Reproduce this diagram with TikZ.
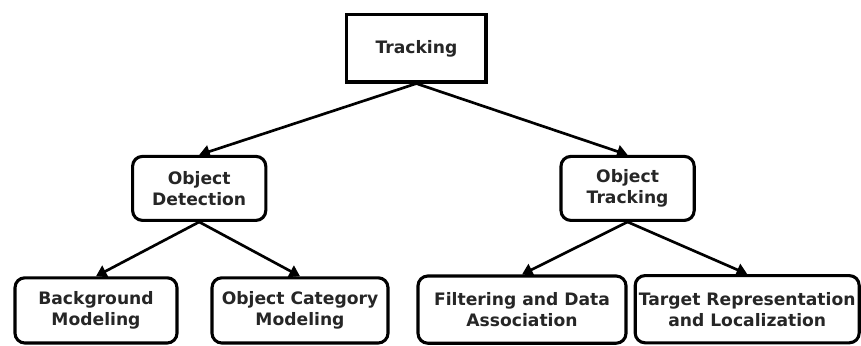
\documentclass[tikz,border=0pt]{standalone}
\usepackage{fontspec}
\setmainfont{DejaVu Sans}
\usepackage{tikz}
\usetikzlibrary{arrows.meta, positioning}

\begin{document}
\begin{tikzpicture}[
  font=\fontsize{12.2}{15}\selectfont\bfseries,
  trline/.style={draw=black, line width=1.9pt, -{Triangle[length=7.5pt, width=9pt]}},
  trbox/.style={draw=black, fill=white, line width=2.2pt, align=center, inner sep=1pt, text=black!85},
  trround/.style={trbox, rounded corners=7pt}
]
\useasboundingbox (0,0) rectangle (21.525,-8.625);

%--------------------------------------------------------------
% Radice
%--------------------------------------------------------------
\node[trbox, minimum width=3.48cm, minimum height=1.68cm] (track) at (10.41,-1.21) {Tracking};

%--------------------------------------------------------------
% Secondo livello
%--------------------------------------------------------------
\node[trround, minimum width=3.33cm, minimum height=1.60cm] (det) at (4.98,-4.71) {Object\\ Detection};
\node[trround, minimum width=3.33cm, minimum height=1.60cm] (otrk) at (15.69,-4.71) {Object\\ Tracking};

%--------------------------------------------------------------
% Foglie
%--------------------------------------------------------------
\node[trround, minimum width=4.05cm, minimum height=1.63cm] (bgm) at (2.40,-7.76) {Background\\ Modeling};
\node[trround, minimum width=4.40cm, minimum height=1.63cm] (ocm) at (7.50,-7.76) {Object Category\\ Modeling};
\node[trround, minimum width=5.20cm, minimum height=1.68cm] (fda) at (13.05,-7.74) {Filtering and Data\\ Association};
\node[trround, minimum width=5.60cm, minimum height=1.68cm] (trl) at (18.68,-7.73) {Target Representation\\ and Localization};

%--------------------------------------------------------------
% Frecce
%--------------------------------------------------------------
\foreach \a/\b in {track/det, track/otrk, det/bgm, det/ocm, otrk/fda, otrk/trl}{
  \draw[trline] (\a.south) -- (\b.north);
}

\end{tikzpicture}
\end{document}
